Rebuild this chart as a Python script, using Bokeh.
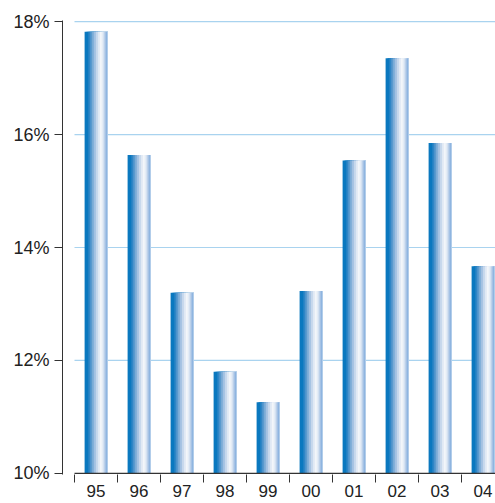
from bokeh.plotting import figure
from bokeh.models import FixedTicker, Range1d, ColumnDataSource
from bokeh.embed import file_html
from bokeh.resources import INLINE

years = ["95", "96", "97", "98", "99", "00", "01", "02", "03", "04"]
values = [17.82, 15.64, 13.20, 11.80, 11.26, 13.23, 15.54, 17.35, 15.85, 13.67]
y_ticks = [10, 12, 14, 16, 18]
y_labels = ["10%", "12%", "14%", "16%", "18%"]

stripe_colors = ["#0a78bf", "#0a78bf", "#2f86c6", "#5a9ace", "#83b0d9", "#a7c4e3",
                 "#c6d7ec", "#e0e9f4", "#f3f6fa", "#e4ecf6", "#bcd1ea", "#8fb5e0"]

bar_width = 0.53
ppu_x = 43.0
x_start = -12 / ppu_x
frame_w = 433
x_end = x_start + frame_w / ppu_x

p = figure(width=495, height=503, output_backend="svg", toolbar_location=None,
           x_range=Range1d(x_start, x_end), y_range=Range1d(9.98, 18.02),
           frame_width=frame_w, frame_height=454,
           min_border_left=62, min_border_right=0, min_border_top=20, min_border_bottom=27)
p.outline_line_color = None
p.xgrid.visible = False
p.ygrid.visible = False

n = len(years)
centers = [i + 0.5 for i in range(n)]

# gridlines
grid_src = ColumnDataSource(dict(x0=[0] * 4, x1=[x_end + 1] * 4, y=y_ticks[1:]))
p.segment(x0="x0", x1="x1", y0="y", y1="y", source=grid_src, line_color="#a9d3ef", line_width=1.2)

# gradient bars drawn as overlapping stripes (each runs to the bar's right edge)
k = len(stripe_colors)
sw = bar_width / k
for j, c in enumerate(stripe_colors):
    lefts = [cx - bar_width / 2 + sw * j for cx in centers]
    rights = [cx + bar_width / 2 for cx in centers]
    p.quad(left=lefts, right=rights, top=values, bottom=10, fill_color=c, line_color=None)

# baseline
p.segment(x0=[0], x1=[x_end + 1], y0=[10], y1=[10], line_color="#333333", line_width=1.2)

font = "Liberation Sans"
# x axis
xa = p.xaxis[0]
xa.ticker = FixedTicker(ticks=centers, minor_ticks=list(range(n + 1)))
xa.major_label_overrides = {c: y for c, y in zip(centers, years)}
xa.axis_line_color = None
xa.major_tick_out = 0
xa.major_tick_in = 0
xa.minor_tick_out = 8
xa.minor_tick_in = 0
xa.minor_tick_line_color = "#333333"
xa.major_label_text_font = font
xa.major_label_text_font_size = "17px"
xa.major_label_text_color = "#222222"
xa.major_label_standoff = 2

ya = p.yaxis[0]
ya.ticker = FixedTicker(ticks=y_ticks)
ya.major_label_overrides = {t: l for t, l in zip(y_ticks, y_labels)}
ya.axis_line_color = "#333333"
ya.major_tick_line_color = "#333333"
ya.major_tick_out = 8
ya.major_tick_in = 0
ya.minor_tick_out = 0
ya.minor_tick_in = 0
ya.major_label_text_font = font
ya.major_label_text_font_size = "18px"
ya.major_label_text_color = "#222222"
ya.major_label_standoff = 5

open("out.html", "w").write(file_html(p, INLINE))
